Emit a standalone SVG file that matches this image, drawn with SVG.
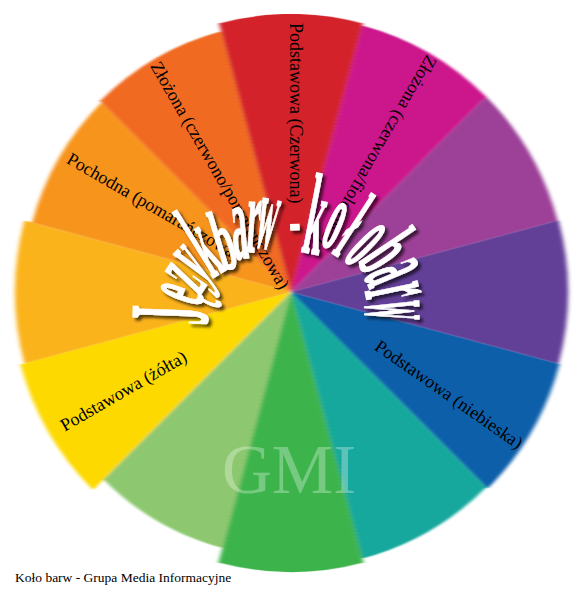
<svg xmlns="http://www.w3.org/2000/svg" width="580" height="600" viewBox="0 0 580 600">
<style>
.lbl{font-family:"Liberation Serif","Times New Roman",serif;font-size:18px;fill:#000}
.t{font-family:"Liberation Serif","Times New Roman",serif;font-weight:bold;font-size:24px;fill:#fff;stroke:#fff;stroke-width:1.2px;vector-effect:non-scaling-stroke;text-anchor:middle}
.foot{font-family:"Liberation Serif","Times New Roman",serif;font-size:13.5px;fill:#000}
</style>
<defs>
<filter id="streak" x="-5%" y="-5%" width="110%" height="110%"><feGaussianBlur stdDeviation="2 0"/></filter>
<filter id="sh" x="-20%" y="-20%" width="140%" height="140%"><feDropShadow dx="3" dy="3" stdDeviation="1.5" flood-color="#000" flood-opacity="0.65"/></filter>
</defs>
<rect width="580" height="600" fill="#fff"/>
<g id="wheel" filter="url(#streak)">
<g id="seg-red"><path d="M291 292 L219.1 23.5 A278 278 0 0 1 362.9 23.5 Z" fill="#d3202a"/></g>
<g id="seg-magenta"><path d="M291 292 L362.4 25.4 A276 276 0 0 1 486.2 96.8 Z" fill="#cc188c"/></g>
<g id="seg-purple"><path d="M291 292 L486.2 96.8 A276 276 0 0 1 557.6 220.6 Z" fill="#9c3f98"/></g>
<g id="seg-violet"><path d="M291 292 L558.6 220.3 A277 277 0 0 1 558.6 363.7 Z" fill="#643f98"/></g>
<g id="seg-blue"><path d="M291 292 L559.5 363.9 A278 278 0 0 1 487.6 488.6 Z" fill="#0b5eaa"/></g>
<g id="seg-teal"><path d="M291 292 L486.2 487.2 A276 276 0 0 1 362.4 558.6 Z" fill="#12a89c"/></g>
<g id="seg-green"><path d="M291 292 L363.5 562.5 A280 280 0 0 1 218.5 562.5 Z" fill="#3cb44b"/></g>
<g id="seg-lightgreen"><path d="M291 292 L222.4 548 A265 265 0 0 1 103.6 479.4 Z" fill="#8dc870"/></g>
<g id="seg-yellow"><path d="M291 292 L93 490 A280 280 0 0 1 20.5 364.5 Z" fill="#fdd900"/></g>
<g id="seg-yelloworange"><path d="M291 292 L24.4 363.4 A276 276 0 0 1 24.4 220.6 Z" fill="#fbb31a"/></g>
<g id="seg-orange"><path d="M291 292 L32.1 222.6 A268 268 0 0 1 101.5 102.5 Z" fill="#f7941e"/></g>
<g id="seg-redorange"><path d="M291 292 L100.1 101.1 A270 270 0 0 1 221.1 31.2 Z" fill="#f16b24"/></g>
</g>
<g id="labels">
<text class="lbl" transform="translate(290,23) rotate(90)">Podstawowa (Czerwona)</text>
<text class="lbl" transform="translate(427,54) rotate(120)">Złożona (czerwona/fioletowa)</text>
<text class="lbl" transform="translate(150,66) rotate(60)">Złożona (czerwono/pomarańczowa)</text>
<text class="lbl" transform="translate(65.5,162.6) rotate(30)">Pochodna (pomarańczowa)</text>
<text class="lbl" transform="translate(373.6,349) rotate(35)">Podstawowa (niebieska)</text>
<text class="lbl" transform="translate(64.7,431.7) rotate(-30)">Podstawowa (żółta)</text>
</g>
<text x="222" y="493" font-family="Liberation Serif, Times New Roman, serif" font-size="69" fill="#fff" fill-opacity="0.3">GMI</text>
<g id="title" filter="url(#sh)">
<text class="t" transform="translate(207,316.6) rotate(-88) scale(1.5,4.7)">J</text>
<text class="t" transform="translate(201.9,301.6) rotate(-70) scale(1.3,3.8)">ę</text>
<text class="t" transform="translate(203.4,289.7) rotate(-57) scale(1.3,3.8)">z</text>
<text class="t" transform="translate(208.1,279.1) rotate(-45) scale(1.3,3.8)">y</text>
<text class="t" transform="translate(219.4,273.9) rotate(-32) scale(1.3,4.6)">k</text>
<text class="t" transform="translate(231.8,268.3) rotate(-17) scale(1.4,3.6)">b</text>
<text class="t" transform="translate(241.8,258.2) rotate(-5) scale(1.3,4.5)">a</text>
<text class="t" transform="translate(251.6,252.1) rotate(4) scale(1.3,4.5)">r</text>
<text class="t" transform="translate(262,247.6) rotate(12) scale(1.1,4.4)">w</text>
<text class="t" y="5.3" transform="translate(295,228) rotate(-2) scale(1.4,2.5)">-</text>
<text class="t" transform="translate(309.4,253.1) rotate(11) scale(1.4,4.8)">k</text>
<text class="t" transform="translate(325.7,246.6) rotate(23) scale(1.3,4.1)">o</text>
<text class="t" transform="translate(335,254.9) rotate(33) scale(1.3,4.3)">ł</text>
<text class="t" transform="translate(347.5,262.5) rotate(45) scale(1.3,4.5)">o</text>
<text class="t" transform="translate(361.8,269) rotate(56) scale(1.4,4.0)">b</text>
<text class="t" transform="translate(367.1,282.7) rotate(67) scale(1.3,4.8)">a</text>
<text class="t" transform="translate(366.5,297.4) rotate(78) scale(1.3,4.8)">r</text>
<text class="t" transform="translate(366,310.8) rotate(89) scale(1.1,4.8)">w</text>
</g>
<text class="foot" x="15" y="582">Koło barw - Grupa Media Informacyjne</text>
</svg>
